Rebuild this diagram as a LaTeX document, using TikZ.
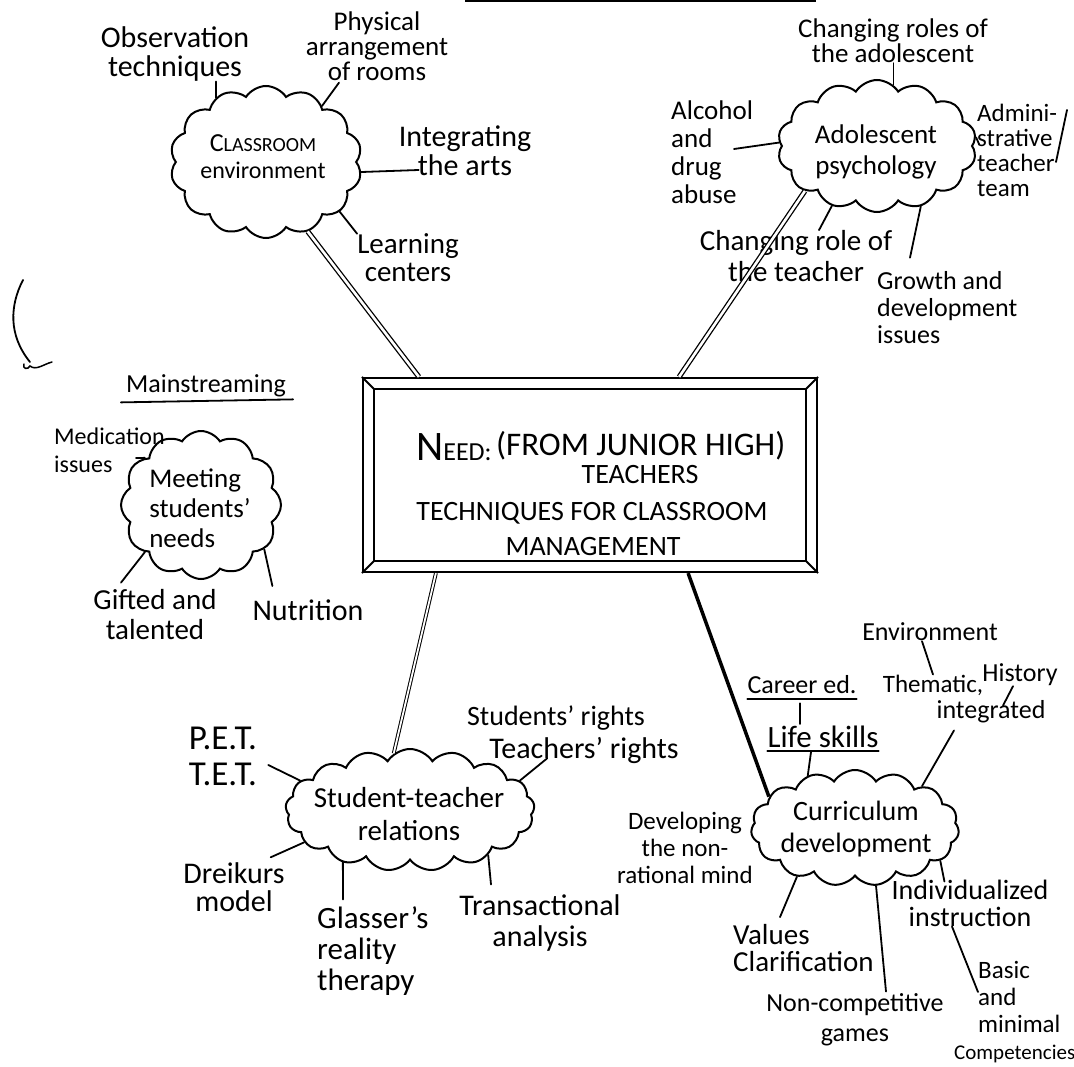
\documentclass[tikz,border=0pt]{standalone}
\usepackage{fontspec}
\setmainfont{Carlito}
\usetikzlibrary{shapes.symbols,calc}
\newcommand\hfs[2]{\fontsize{#1}{#2}\selectfont}
\tikzset{
 lbl/.style={inner sep=0pt, align=center, font=\hfs{28}{28}},
 lbll/.style={inner sep=0pt, align=left, font=\hfs{28}{28}},
 puff/.style={cloud, draw, line width=2pt, cloud puffs=14, cloud puff arc=115, cloud ignores aspect, inner sep=0pt},
 conn/.style={line width=1.8pt, line cap=round},
 dbl/.style={double, line width=1.3pt, double distance=2.6pt},
 heavy/.style={line width=3.5pt},
 boxtxt/.style={inner sep=0pt},
}
\begin{document}
\begin{tikzpicture}[x=1pt,y=1pt]
\useasboundingbox (0,0) rectangle (1074,-1067);
\fill[white] (0,0) rectangle (1074,-1067);
\draw[line width=2.5pt] (465,-1) -- (816,-1);
% left curved mark
\draw[line width=1.8pt, line cap=round] (23,-280) .. controls (10,-305) and (8,-335) .. (30,-362);
\draw[line width=1.5pt, line cap=round] (24,-364) .. controls (22,-369) and (28,-370) .. (30,-366) .. controls (36,-371) and (44,-364) .. (52,-362);
% clouds
\node[puff, minimum width=192pt, minimum height=152pt] (ce) at (266,-162) {};
\node[puff, minimum width=199pt, minimum height=132pt] (ap) at (877,-146) {};
\node[puff, minimum width=160pt, minimum height=148pt, cloud puffs=12] (ms) at (201,-505) {};
\node[puff, minimum width=249pt, minimum height=122pt, cloud puffs=17] (st) at (410,-810) {};
\node[puff, minimum width=208pt, minimum height=116pt, cloud puffs=15] (cd) at (855,-828) {};
% cloud texts
\node[lbl, font=\hfs{24}{27}] (cet) at (263,-157) {{\hfs{26}{26}C}{\hfs{20}{20}LASSROOM}\\environment};
\node[lbl, font=\hfs{27}{31}] (apt) at (876,-152) {Adolescent\\psychology};
\node[lbll, font=\hfs{27}{30}] (mst) at (200,-508) {Meeting\\students'\\needs};
\node[lbl, font=\hfs{29}{33}] (stt) at (409,-814) {Student-teacher\\relations};
\node[lbl, font=\hfs{28}{32}] (cdt) at (856,-829) {Curriculum\\development};
% central framed box
\node[draw, line width=2.2pt, minimum width=454pt, minimum height=194pt, inner sep=0pt] (need) at (590,-475) {};
\draw[line width=2pt] ($(need.north west)+(12,-12)$) rectangle ($(need.south east)+(-12,12)$);
\draw[line width=1.8pt] (need.north west) -- ++(12,-12);
\draw[line width=1.8pt] (need.north east) -- ++(-12,-12);
\draw[line width=1.8pt] (need.south west) -- ++(12,12);
\draw[line width=1.8pt] (need.south east) -- ++(-12,12);
\node[boxtxt, anchor=base west] (n1) at (416,-460) {{\hfs{42}{42}N}{\hfs{26}{26}EED:}};
\node[boxtxt, anchor=base west, font=\hfs{33}{33}] (n2) at (496,-455) {(FROM JUNIOR HIGH)};
\node[boxtxt, font=\hfs{28}{28}] (n3) at (640,-475) {TEACHERS};
\node[boxtxt, font=\hfs{28}{28}] (n4) at (592,-513) {TECHNIQUES FOR CLASSROOM};
\node[boxtxt, font=\hfs{28}{28}] (n5) at (593,-547) {MANAGEMENT};
% labels
\node[lbl, font=\hfs{30}{29}] (obs) at (175,-54) {Observation\\techniques};
\node[lbl, font=\hfs{27}{25}] (phys) at (377,-46) {Physical\\arrangement\\of rooms};
\node[lbl, font=\hfs{30}{29}] (integ) at (465,-151) {Integrating\\the arts};
\node[lbl, font=\hfs{29}{28}] (learn) at (408,-258) {Learning\\centers};
\node[lbl, font=\hfs{27}{25}] (cra) at (893,-41) {Changing roles of\\the adolescent};
\node[lbll, anchor=west, font=\hfs{27}{28}] (alc) at (671,-152) {Alcohol\\and\\drug\\abuse};
\node[lbll, anchor=west, font=\hfs{25}{25}] (adm) at (977,-150) {Admini-\\strative\\teacher\\team};
\node[lbl, font=\hfs{29}{31}] (crt) at (796,-256) {Changing role of\\the teacher};
\node[lbll, anchor=west, font=\hfs{26}{27}] (grow) at (877,-308) {Growth and\\development\\issues};
\node[lbl, font=\hfs{26}{26}] (mainstr) at (206,-386) {Mainstreaming};
\node[lbll, anchor=west, font=\hfs{24}{28}] (med) at (54,-450) {Medication\\issues};
\node[lbl, font=\hfs{29}{30}] (gift) at (155,-615) {Gifted and\\talented};
\node[lbl, font=\hfs{30}{30}] (nut) at (308,-610) {Nutrition};
\node[lbl, font=\hfs{35}{36}] (pet) at (223,-756) {P.E.T.\\T.E.T.};
\node[lbl] (sr1) at (556,-718) {Students' rights};
\node[lbl, font=\hfs{30}{30}] (sr2) at (584,-750) {Teachers' rights};
\node[lbl, font=\hfs{30}{28}] (dre) at (234,-887) {Dreikurs\\model};
\node[lbll, anchor=west, font=\hfs{31}{31}] (glas) at (317,-951) {Glasser's\\reality\\therapy};
\node[lbl, font=\hfs{30}{31}] (trans) at (540,-923) {Transactional\\analysis};
\node[lbl, font=\hfs{26}{26}] (career) at (802,-685) {Career ed.};
\node[lbl, font=\hfs{31}{31}] (life) at (823,-737) {Life skills};
\node[lbl, font=\hfs{26}{26}] (env) at (930,-632) {Environment};
\node[lbl, font=\hfs{25}{25}] (them) at (933,-685) {Thematic,};
\node[lbl, font=\hfs{26}{26}] (hist) at (1020,-675) {History};
\node[lbl, font=\hfs{26}{26}] (integ2) at (991,-712) {integrated};
\node[lbl, font=\hfs{25}{27}] (dev) at (685,-848) {Developing\\the non-\\rational mind};
\node[lbll, anchor=west, font=\hfs{29}{27}] (val) at (733,-948) {Values\\Clarification};
\node[lbl, font=\hfs{26}{30}] (ncg) at (855,-1020) {Non-competitive\\games};
\node[lbl, font=\hfs{28}{27}] (ind) at (970,-903) {Individualized\\instruction};
\node[lbll, anchor=west, font=\hfs{25}{27}] (basic) at (978,-1012) {Basic\\and\\minimal\\\hspace*{-24pt}{\hfs{21}{27}Competencies}};
% underlines
\draw[conn] ($(mainstr.south west)+(-5,-5)$) -- ($(mainstr.south east)+(7,-2)$);
\draw[conn] ($(career.south west)+(0,-5)$) -- ($(career.south east)+(0,-5)$);
\draw[conn] ($(life.south west)+(0,-3)$) -- ($(life.south east)+(0,-3)$);
% slash beside Administrative
\draw[conn] (1067,-110) -- (1056,-162);
% main spokes
\draw[dbl] (ce.301) -- ($(need.north west)+(57,0)$);
\draw[dbl] (ap.212) -- ($(need.north east)+(-139,0)$);
\draw[dbl, line width=1pt, double distance=1.8pt] (st.106) -- ($(need.south west)+(74,0)$);
\draw[heavy] (cd.160) -- ($(need.south east)+(-130,0)$);
% connectors
\draw[conn] (ce.128) -- (ce.128 |- obs.south);
\draw[conn] (ce.45) -- ($(phys.south)+(-38,-2)$);
\draw[conn] (ce.354) -- ($(integ.west)+(20,-19)$);
\draw[conn] (ce.326) -- (learn.north west);
\draw[conn] (ap.75) -- (ap.75 |- cra.south);
\draw[conn] (ap.178) -- ($(alc.west)+(63,3)$);
\draw[conn] (ap.5) -- ($(adm.west)+(2,6)$);
\draw[conn] (ap.233) -- ($(crt.north)+(23,0)$);
\draw[conn] (ap.306) -- ($(grow.north west)+(33,14)$);
\draw[conn] (ms.140) -- ($(med.west)+(82,-8)$);
\draw[conn] (ms.220) -- ($(gift.north)+(-34,7)$);
\draw[conn] (ms.325) -- ($(nut.west)+(20,24)$);
\draw[conn] (st.165) -- ($(pet.east)+(11,-9)$);
\draw[conn] (st.15) -- ($(sr2.south west)+(58,5)$);
\draw[conn] (st.197) -- ($(dre.north east)+(-14,5)$);
\draw[conn] (st.218) -- ($(glas.north west)+(26,7)$);
\draw[conn] (st.330) -- ($(trans.north)+(-49,10)$);
\draw[conn] (cd.132) -- ($(life.south)+(-12,-4)$);
\draw[conn] ($(career.south)+(-2,-9)$) -- ($(life.north)+(-23,2)$);
\draw[conn] ($(env.south)+(-8,0)$) -- (them.north);
\draw[conn] ($(hist.south)+(-7,0)$) -- ($(integ2.north)+(12,-5)$);
\draw[conn] (cd.32) -- ($(integ2.south)+(-37,-7)$);
\draw[conn] (cd.220) -- ($(val.north west)+(47,7)$);
\draw[conn] (cd.290) -- ($(ncg.north)+(31,2)$);
\draw[conn] (cd.339) -- ($(ind.north west)+(53,-2)$);
\draw[conn] ($(ind.south)+(-18,0)$) -- ($(basic.west)+(0,20)$);
\end{tikzpicture}
\end{document}
